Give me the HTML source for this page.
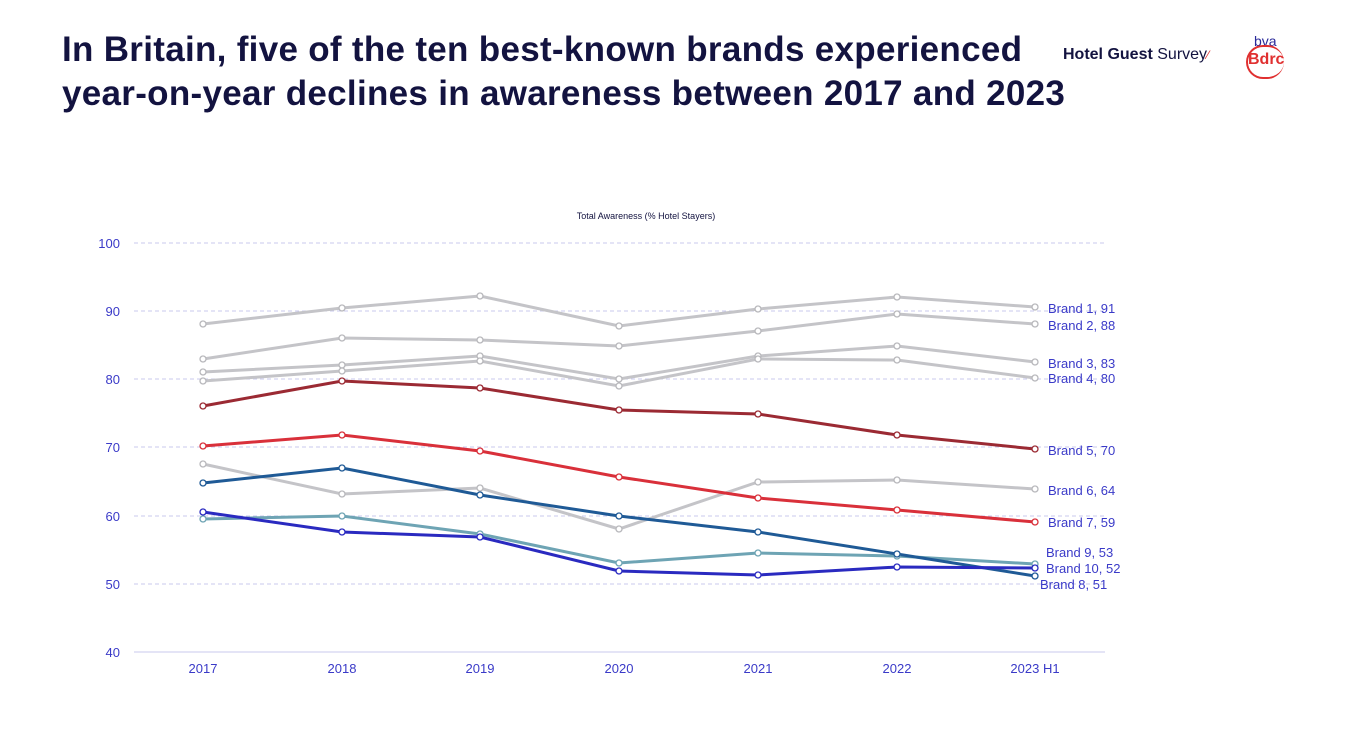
<!DOCTYPE html>
<html><head><meta charset="utf-8"><style>
body{margin:0;background:#fff;width:1346px;height:736px;overflow:hidden;font-family:"Liberation Sans",sans-serif}
h1{position:absolute;left:62px;top:28px;margin:0;font-size:35px;line-height:44px;color:#131340;font-weight:bold;letter-spacing:0.3px;white-space:nowrap}
</style></head><body>
<h1>In Britain, five of the ten best-known brands experienced<br>year-on-year declines in awareness between 2017 and 2023</h1>
<div style="position:absolute;left:1063px;top:46px;font-size:16px;color:#131340"><b>Hotel Guest</b> Survey<span style="color:#e03030;font-size:12px">⁄</span></div>
<div style="position:absolute;left:1244px;top:33px;width:50px;height:42px">
<div style="position:absolute;left:10px;top:0;font-size:14px;color:#2a2a9a">bva</div>
<div style="position:absolute;left:2px;top:12px;width:36px;height:30px;border:2px solid #e03030;border-radius:18px;border-right:none"></div>
<div style="position:absolute;left:4px;top:18px;font-size:16px;font-weight:bold;color:#e03030">Bdrc</div>
</div>
<svg width="1346" height="736" style="position:absolute;left:0;top:0" font-family="Liberation Sans, sans-serif">
<text x="646" y="219" font-size="9" fill="#131340" text-anchor="middle">Total Awareness (% Hotel Stayers)</text>
<g stroke="#c8c8ee" stroke-dasharray="4,3" stroke-width="1">
<line x1="134" x2="1105" y1="243" y2="243"/><line x1="134" x2="1105" y1="311" y2="311"/><line x1="134" x2="1105" y1="379" y2="379"/><line x1="134" x2="1105" y1="447" y2="447"/><line x1="134" x2="1105" y1="516" y2="516"/><line x1="134" x2="1105" y1="584" y2="584"/>
</g>
<line x1="134" x2="1105" y1="652" y2="652" stroke="#c8c8ee"/>
<g font-size="13" fill="#3a3ac8" text-anchor="end">
<text x="120" y="248">100</text><text x="120" y="316">90</text><text x="120" y="384">80</text><text x="120" y="452">70</text><text x="120" y="521">60</text><text x="120" y="589">50</text><text x="120" y="657">40</text>
</g>
<g font-size="13" fill="#3a3ac8" text-anchor="middle">
<text x="203" y="673">2017</text><text x="342" y="673">2018</text><text x="480" y="673">2019</text><text x="619" y="673">2020</text><text x="758" y="673">2021</text><text x="897" y="673">2022</text><text x="1035" y="673">2023 H1</text>
</g>
<g fill="none" stroke-width="3">
<polyline stroke="#c4c4c8" points="203,324 342,308 480,296 619,326 758,309 897,297 1035,307"/>
<polyline stroke="#c4c4c8" points="203,359 342,338 480,340 619,346 758,331 897,314 1035,324"/>
<polyline stroke="#c4c4c8" points="203,372 342,365 480,356 619,379 758,356 897,346 1035,362"/>
<polyline stroke="#c4c4c8" points="203,381 342,371 480,361 619,386 758,359 897,360 1035,378"/>
<polyline stroke="#c4c4c8" points="203,464 342,494 480,488 619,529 758,482 897,480 1035,489"/>
<polyline stroke="#9b2a33" points="203,406 342,381 480,388 619,410 758,414 897,435 1035,449"/>
<polyline stroke="#d9303a" points="203,446 342,435 480,451 619,477 758,498 897,510 1035,522"/>
<polyline stroke="#6ea4b4" points="203,519 342,516 480,534 619,563 758,553 897,556 1035,564"/>
<polyline stroke="#1f5a96" points="203,483 342,468 480,495 619,516 758,532 897,554 1035,576"/>
<polyline stroke="#2a2ac0" points="203,512 342,532 480,537 619,571 758,575 897,567 1035,568"/>
</g>
<g fill="#fff" stroke-width="1.3">
<g stroke="#b8b8bc">
<circle cx="203" cy="324" r="3"/><circle cx="342" cy="308" r="3"/><circle cx="480" cy="296" r="3"/><circle cx="619" cy="326" r="3"/><circle cx="758" cy="309" r="3"/><circle cx="897" cy="297" r="3"/><circle cx="1035" cy="307" r="3"/>
<circle cx="203" cy="359" r="3"/><circle cx="342" cy="338" r="3"/><circle cx="480" cy="340" r="3"/><circle cx="619" cy="346" r="3"/><circle cx="758" cy="331" r="3"/><circle cx="897" cy="314" r="3"/><circle cx="1035" cy="324" r="3"/>
<circle cx="203" cy="372" r="3"/><circle cx="342" cy="365" r="3"/><circle cx="480" cy="356" r="3"/><circle cx="619" cy="379" r="3"/><circle cx="758" cy="356" r="3"/><circle cx="897" cy="346" r="3"/><circle cx="1035" cy="362" r="3"/>
<circle cx="203" cy="381" r="3"/><circle cx="342" cy="371" r="3"/><circle cx="480" cy="361" r="3"/><circle cx="619" cy="386" r="3"/><circle cx="758" cy="359" r="3"/><circle cx="897" cy="360" r="3"/><circle cx="1035" cy="378" r="3"/>
<circle cx="203" cy="464" r="3"/><circle cx="342" cy="494" r="3"/><circle cx="480" cy="488" r="3"/><circle cx="619" cy="529" r="3"/><circle cx="758" cy="482" r="3"/><circle cx="897" cy="480" r="3"/><circle cx="1035" cy="489" r="3"/>
</g>
<g stroke="#9b2a33"><circle cx="203" cy="406" r="3"/><circle cx="342" cy="381" r="3"/><circle cx="480" cy="388" r="3"/><circle cx="619" cy="410" r="3"/><circle cx="758" cy="414" r="3"/><circle cx="897" cy="435" r="3"/><circle cx="1035" cy="449" r="3"/></g>
<g stroke="#d9303a"><circle cx="203" cy="446" r="3"/><circle cx="342" cy="435" r="3"/><circle cx="480" cy="451" r="3"/><circle cx="619" cy="477" r="3"/><circle cx="758" cy="498" r="3"/><circle cx="897" cy="510" r="3"/><circle cx="1035" cy="522" r="3"/></g>
<g stroke="#6ea4b4"><circle cx="203" cy="519" r="3"/><circle cx="342" cy="516" r="3"/><circle cx="480" cy="534" r="3"/><circle cx="619" cy="563" r="3"/><circle cx="758" cy="553" r="3"/><circle cx="897" cy="556" r="3"/><circle cx="1035" cy="564" r="3"/></g>
<g stroke="#1f5a96"><circle cx="203" cy="483" r="3"/><circle cx="342" cy="468" r="3"/><circle cx="480" cy="495" r="3"/><circle cx="619" cy="516" r="3"/><circle cx="758" cy="532" r="3"/><circle cx="897" cy="554" r="3"/><circle cx="1035" cy="576" r="3"/></g>
<g stroke="#2a2ac0"><circle cx="203" cy="512" r="3"/><circle cx="342" cy="532" r="3"/><circle cx="480" cy="537" r="3"/><circle cx="619" cy="571" r="3"/><circle cx="758" cy="575" r="3"/><circle cx="897" cy="567" r="3"/><circle cx="1035" cy="568" r="3"/></g>
</g>
<g font-size="13" fill="#3a3ac8">
<text x="1048" y="313">Brand 1, 91</text><text x="1048" y="330">Brand 2, 88</text><text x="1048" y="368">Brand 3, 83</text><text x="1048" y="383">Brand 4, 80</text><text x="1048" y="455">Brand 5, 70</text><text x="1048" y="495">Brand 6, 64</text><text x="1048" y="527">Brand 7, 59</text><text x="1046" y="557">Brand 9, 53</text><text x="1046" y="573">Brand 10, 52</text><text x="1040" y="589">Brand 8, 51</text>
</g>
</svg>
</body></html>
